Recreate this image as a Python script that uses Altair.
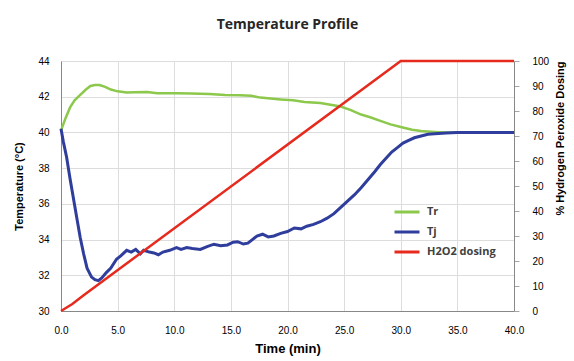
import altair as alt
import pandas as pd

series_names = ["Tr", "Tj", "H2O2 dosing"]
series_colors = ["#8cc84b", "#2f3d9c", "#e62a1e"]

tr_time = [0, 0.4, 0.8, 1.2, 1.7, 2.2, 2.6, 3.0, 3.4, 3.9, 4.4, 5.0, 5.8, 6.5, 7.6, 8.5,
           10.2, 11.5, 13.1, 14.5, 15.8, 16.8, 17.6, 18.5, 19.4, 20.5, 21.5, 22.9, 23.8,
           24.7, 25.6, 26.5, 27.3, 28.2, 29.1, 30.0, 31.0, 31.8, 33.0, 34.0, 35.0, 37.0, 40.0]
tr_temp = [40.1, 40.8, 41.4, 41.8, 42.1, 42.4, 42.6, 42.65, 42.65, 42.55, 42.4, 42.3, 42.23,
           42.25, 42.27, 42.2, 42.2, 42.18, 42.15, 42.1, 42.08, 42.05, 41.95, 41.9, 41.85,
           41.8, 41.7, 41.65, 41.55, 41.45, 41.25, 41.0, 40.85, 40.65, 40.45, 40.3, 40.15,
           40.08, 40.03, 40.0, 40.0, 40.0, 40.0]

tj_time = [0, 0.2, 0.5, 0.8, 1.1, 1.4, 1.7, 2.0, 2.3, 2.7, 3.0, 3.3, 3.6, 4.0, 4.4, 4.9,
           5.3, 5.8, 6.2, 6.6, 7.0, 7.3, 7.8, 8.2, 8.6, 9.0, 9.6, 10.2, 10.6, 11.1, 11.6,
           12.3, 12.9, 13.5, 14.1, 14.7, 15.2, 15.6, 16.1, 16.5, 16.9, 17.3, 17.8, 18.3,
           18.8, 19.4, 20.0, 20.6, 21.2, 21.7, 22.3, 22.9, 23.5, 24.1, 24.7, 25.3, 25.9,
           26.5, 27.1, 27.7, 28.2, 28.7, 29.2, 29.7, 30.2, 30.7, 31.2, 31.8, 32.4, 33.0,
           34.0, 35.0, 37.0, 40.0]
tj_temp = [40.2, 39.5, 38.6, 37.4, 36.3, 35.2, 34.1, 33.2, 32.4, 31.9, 31.75, 31.7, 31.85,
           32.15, 32.4, 32.9, 33.1, 33.4, 33.3, 33.45, 33.2, 33.4, 33.3, 33.25, 33.15, 33.3,
           33.4, 33.55, 33.45, 33.55, 33.5, 33.45, 33.6, 33.74, 33.65, 33.7, 33.85, 33.88,
           33.75, 33.8, 34.0, 34.2, 34.3, 34.15, 34.2, 34.35, 34.45, 34.65, 34.6, 34.75,
           34.85, 35.0, 35.2, 35.45, 35.8, 36.15, 36.5, 36.9, 37.35, 37.8, 38.2, 38.55,
           38.9, 39.15, 39.4, 39.55, 39.7, 39.8, 39.9, 39.93, 39.97, 40.0, 40.0, 40.0]

dose_time = [0, 1, 2, 30, 40]
dose_pct = [0, 2.8, 6.3, 100, 100]

x_ticks = [0, 5, 10, 15, 20, 25, 30, 35, 40]
temp_ticks = [30, 32, 34, 36, 38, 40, 42, 44]
pct_ticks = [0, 10, 20, 30, 40, 50, 60, 70, 80, 90, 100]

tr_df = pd.DataFrame({"time": tr_time, "value": tr_temp, "series": "Tr"})
tj_df = pd.DataFrame({"time": tj_time, "value": tj_temp, "series": "Tj"})
dose_df = pd.DataFrame({"time": dose_time, "pct": dose_pct, "series": "H2O2 dosing"})

FONT = "Open Sans"
LABEL_COLOR = "#404040"

x_enc = alt.X("time:Q", scale=alt.Scale(domain=[0, 40], nice=False),
              axis=alt.Axis(values=x_ticks, format=".1f", title="Time (min)",
                            ticks=False, labelPadding=14, titlePadding=7,
                            labelFlush=False, titleFontSize=13))
color_enc = alt.Color("series:N",
                      scale=alt.Scale(domain=series_names, range=series_colors),
                      legend=alt.Legend(title=None, orient="none", legendX=332, legendY=137,
                                        symbolType="stroke", symbolSize=625,
                                        symbolStrokeWidth=3, labelFontSize=11,
                                        labelFont=FONT, labelFontWeight="bold",
                                        labelColor=LABEL_COLOR, rowPadding=0,
                                        labelOffset=6, padding=0))

y_temp = alt.Y("value:Q", scale=alt.Scale(domain=[30, 44], nice=False),
               axis=alt.Axis(values=temp_ticks, title="Temperature (°C)", ticks=False,
                             orient="left", labelPadding=12, titlePadding=13,
                             labelFlush=False))

tr_line = alt.Chart(tr_df).mark_line(strokeWidth=2.5).encode(x=x_enc, y=y_temp, color=color_enc)
tj_line = alt.Chart(tj_df).mark_line(strokeWidth=3).encode(x=x_enc, y=y_temp, color=color_enc)

dose_line = alt.Chart(dose_df).mark_line(strokeWidth=2.5).encode(
    x=x_enc,
    y=alt.Y("pct:Q", scale=alt.Scale(domain=[0, 100], nice=False),
            axis=alt.Axis(values=pct_ticks, title="% Hydrogen Peroxide Dosing",
                          orient="right", ticks=True, tickSize=5, tickColor="#a6a6a6",
                          labelPadding=13, titlePadding=17, titleAngle=270,
                          titleAnchor="end", labelFlush=False)),
    color=color_enc,
)

chart = alt.layer(alt.layer(tr_line, tj_line), dose_line).resolve_scale(
    y="independent"
).properties(
    width=453,
    height=250,
    autosize=alt.AutoSizeParams(type="none"),
    padding={"left": 61, "top": 61, "right": 60, "bottom": 50},
    title=alt.Title("Temperature Profile", font=FONT, fontSize=14, fontWeight="bold",
                    color="#262626", offset=24, anchor="middle"),
).configure_view(stroke=None).configure_axis(
    grid=False,
    domainColor="#a6a6a6",
    labelFont=FONT, labelFontSize=11, labelFontWeight="bold", labelColor=LABEL_COLOR,
    titleFont=FONT, titleFontSize=11, titleFontWeight="bold", titleColor="#262626",
).configure(background="white")

chart.save("out.html", embed_options={"renderer": "svg", "actions": False})
